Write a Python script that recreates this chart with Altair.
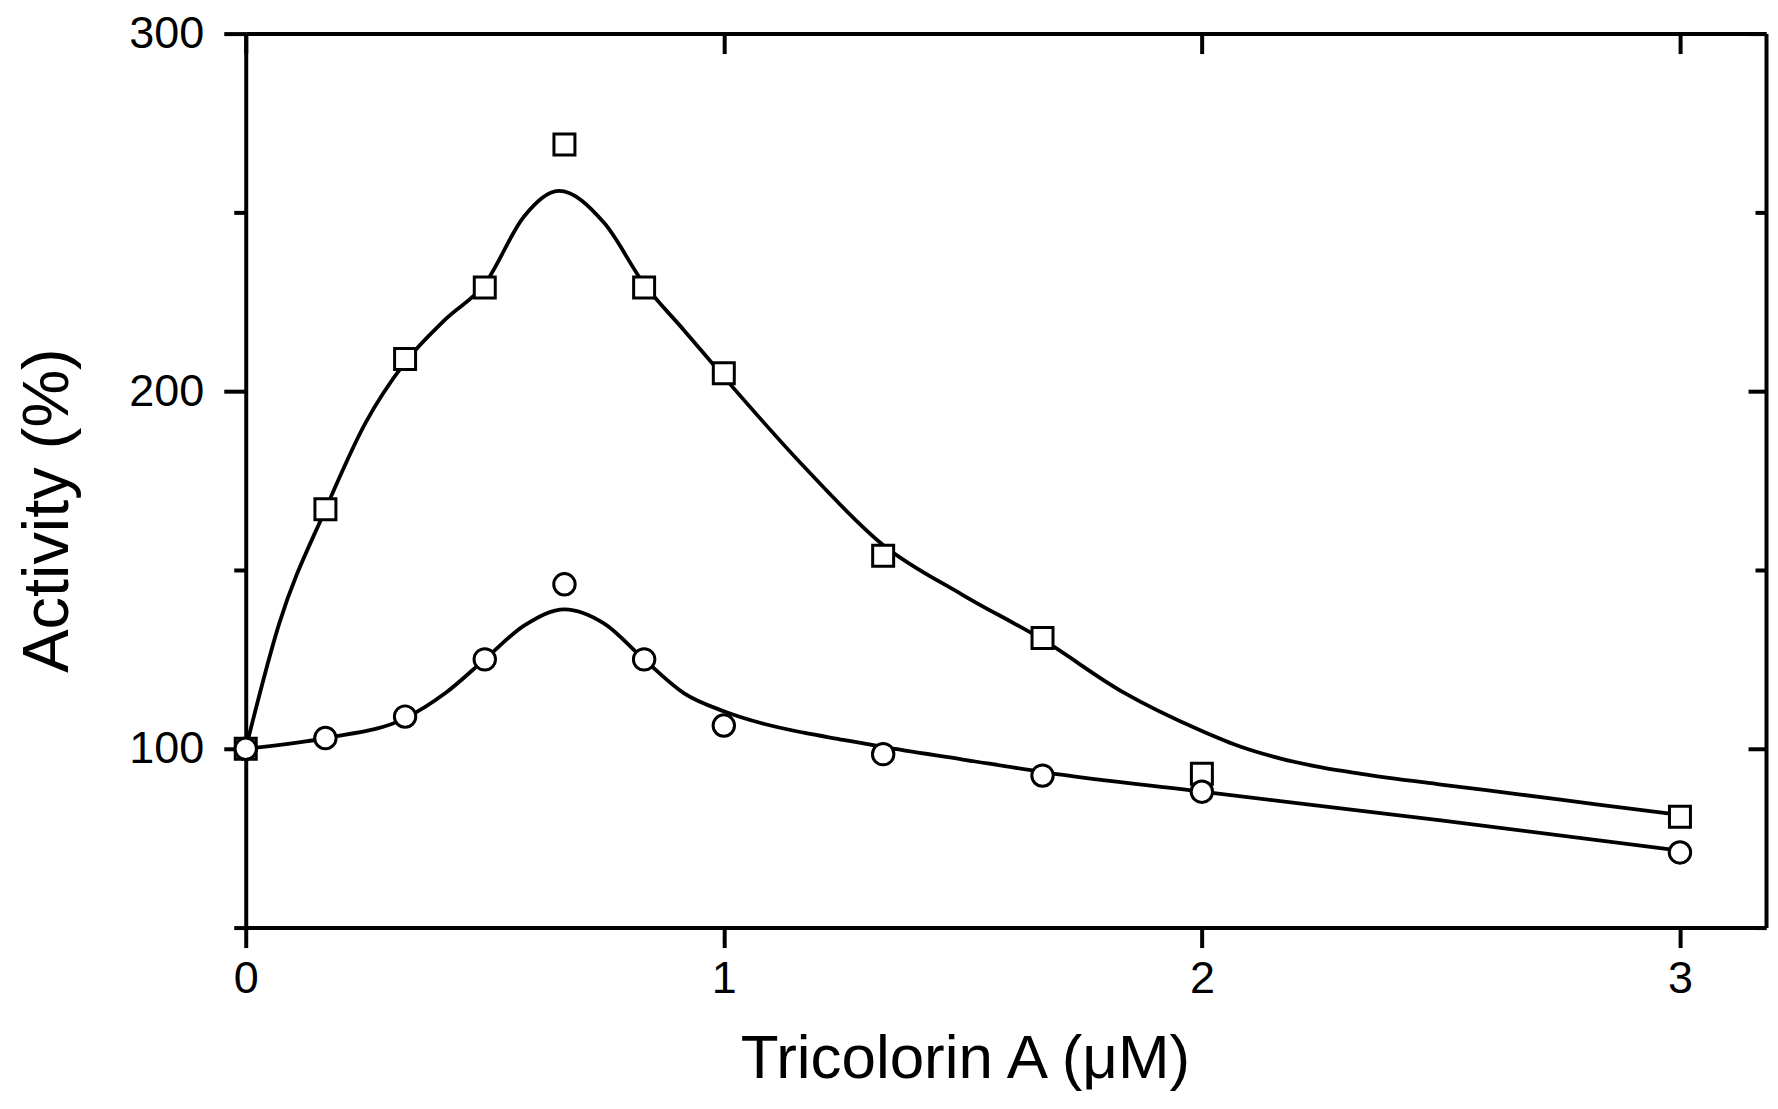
import altair as alt
import pandas as pd

# ---- data ----
conc = [0, 1/6, 1/3, 1/2, 2/3, 5/6, 1, 4/3, 5/3, 2, 3]
square_vals = [100, 167, 209, 229, 269, 229, 205, 154, 131, 93, 81]
circle_vals = [100, 103, 109, 125, 146, 125, 106.5, 98.5, 92.5, 88, 71]

square_fit_x = [0, 0.07, 0.167, 0.25, 0.333, 0.417, 0.5, 0.583, 0.655, 0.75, 0.833,
                0.917, 1.0, 1.167, 1.333, 1.5, 1.667, 1.833, 2.0, 2.083, 2.167,
                2.25, 2.333, 2.5, 2.667, 2.833, 3.0]
square_fit_y = [100, 135, 167, 191, 208, 220, 230, 249, 256, 247, 230,
                217, 204, 179, 157, 143, 130.5, 116, 105, 100.5, 97.2,
                94.8, 93, 90, 87.2, 84.3, 81.5]

circle_fit_x = [0, 0.167, 0.333, 0.417, 0.5, 0.583, 0.667, 0.75, 0.833, 0.917,
                1.0, 1.083, 1.167, 1.25, 1.333, 1.5, 1.667, 2.0, 2.5, 3.0]
circle_fit_y = [100, 103, 108.5, 115.5, 125, 134.5, 139, 135, 125, 115.5,
                110.5, 107, 104.5, 102.5, 100.5, 97, 93.5, 88, 80, 71.5]

x_ticks = [0, 1, 2, 3]
y_ticks = [50, 100, 150, 200, 250, 300]
x_domain = [0, 3.18]
y_domain = [50, 300]

sq_df = pd.DataFrame({"x": conc, "y": square_vals})
ci_df = pd.DataFrame({"x": conc, "y": circle_vals})
fit_df = pd.concat([
    pd.DataFrame({"x": square_fit_x, "y": square_fit_y, "series": "square"}),
    pd.DataFrame({"x": circle_fit_x, "y": circle_fit_y, "series": "circle"}),
])

W, H = 1522, 895
FONT = "Liberation Sans"

xscale = alt.Scale(domain=x_domain, nice=False, zero=False)
yscale = alt.Scale(domain=y_domain, nice=False, zero=False)

def tick_len(major, minor):
    return {"condition": {"test": "datum.value % 100 === 0", "value": major}, "value": minor}

x_bottom = alt.Axis(orient="bottom", values=x_ticks, format="d", tickSize=20,
                    labelFontSize=45, labelPadding=9, labelFlush=False,
                    title="Tricolorin A (μM)", titleFontSize=62, titleFontWeight="normal",
                    titleX=720, titleY=150, titleAlign="center", titleBaseline="alphabetic")
y_left = alt.Axis(orient="left", values=y_ticks, tickSize=tick_len(22, 12),
                  labelExpr="datum.value % 100 === 0 ? datum.label : ''",
                  labelFontSize=45, labelPadding=20, labelFlush=False,
                  title="Activity (%)", titleFontSize=65, titleFontWeight="normal",
                  titleAngle=270, titleX=-198, titleY=477, titleAlign="center",
                  titleBaseline="middle")
x_top = alt.Axis(orient="bottom", offset=-H, values=x_ticks, labels=False,
                 tickSize=20, title="")
y_right = alt.Axis(orient="left", offset=-W, values=y_ticks, labels=False,
                   tickSize=tick_len(18, 11), title="")

frame = alt.Chart(sq_df).mark_point(opacity=0).encode(
    x=alt.X("x:Q", scale=xscale, axis=x_top),
    y=alt.Y("y:Q", scale=yscale, axis=y_right),
)

lines = alt.Chart(fit_df).mark_line(interpolate="monotone", color="black",
                                    strokeWidth=3.8).encode(
    x=alt.X("x:Q", scale=xscale, axis=x_bottom),
    y=alt.Y("y:Q", scale=yscale, axis=y_left),
    detail="series:N",
)

squares = alt.Chart(sq_df).mark_point(shape="square", filled=True, fill="white",
                                      stroke="black", strokeWidth=3, size=441,
                                      opacity=1).encode(
    x=alt.X("x:Q", scale=xscale, axis=None),
    y=alt.Y("y:Q", scale=yscale, axis=None),
)

circles = alt.Chart(ci_df).mark_point(shape="circle", filled=True, fill="white",
                                      stroke="black", strokeWidth=3, size=460,
                                      opacity=1).encode(
    x=alt.X("x:Q", scale=xscale, axis=None),
    y=alt.Y("y:Q", scale=yscale, axis=None),
)

chart = alt.layer(frame, lines, squares, circles).resolve_scale(
    x="independent", y="independent"
).properties(
    width=W, height=H,
    autosize=alt.AutoSizeParams(type="none"),
    padding={"left": 238, "top": 25, "right": 4, "bottom": 163},
    background="white",
).configure_axis(
    grid=False, labelFont=FONT, titleFont=FONT, labelColor="black",
    titleColor="black", domainColor="black", tickColor="black",
    domainWidth=4, tickWidth=4,
).configure_view(stroke=None)

chart.save("out.html", embed_options={"renderer": "svg", "actions": False})
